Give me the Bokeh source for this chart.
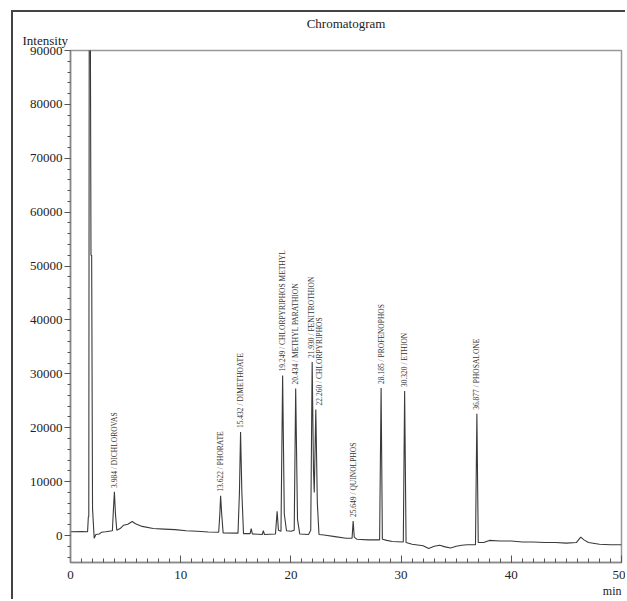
from bokeh.plotting import figure
from bokeh.models import (SingleIntervalTicker, Range1d, Title,
                          ColumnDataSource, NumeralTickFormatter)
from bokeh.core.properties import value
from bokeh.embed import file_html
from bokeh.resources import INLINE
import math

# ---- data ----
times = [0.0, 1.0, 1.55, 1.62, 1.66, 1.70, 1.80, 1.86, 1.92, 2.0, 2.15, 2.3, 2.6, 2.8, 3.2, 3.5, 3.8,
         3.9, 3.984, 4.08, 4.2, 4.5, 4.8, 5.2, 5.6, 5.9, 6.5, 7.5, 8.5, 9.5, 10.5, 11.5, 12.5,
         13.45, 13.55, 13.622, 13.72, 13.85, 15.2, 15.33, 15.432, 15.55, 15.7, 16.3, 16.4, 16.5,
         17.4, 17.5, 17.6, 18.6, 18.75, 18.87, 19.1, 19.249, 19.4, 19.6, 20.0, 20.3, 20.434, 20.6,
         20.8, 21.6, 21.8, 21.93, 22.05, 22.12, 22.26, 22.4, 22.55, 23.0, 24.0, 25.0, 25.55,
         25.649, 25.75, 26.0, 27.0, 28.05, 28.185, 28.3, 28.7, 29.2, 30.2, 30.32, 30.45, 31.0,
         32.0, 32.5, 33.0, 33.5, 34.0, 34.5, 35.0, 35.5, 36.0, 36.75, 36.877, 37.0, 37.5, 38.0,
         39.0, 40.0, 41.0, 42.0, 43.0, 44.0, 45.0, 45.9, 46.3, 46.6, 47.0, 48.0, 49.0, 50.0]
intensity = [700, 750, 700, 3500, 3500, 96000, 96000, 52000, 52000, 5000, -500, 200, 300, 600, 700,
             800, 900, 5000, 8100, 4000, 1000, 1300, 1900, 2100, 2600, 2200, 1700, 1300, 1200, 1100,
             900, 800, 650, 600, 4000, 7400, 4000, 500, 450, 8000, 19200, 8000, 350, 350, 1300, 300,
             200, 900, 200, 300, 4500, 1000, 800, 29700, 4000, 900, 800, 1000, 27300, 3000, 300, 200,
             1000, 32200, 12000, 8000, 23400, 6000, 200, 100, -200, -500, -500, 2700, -300, -700,
             -800, -800, 27400, -700, -900, -1100, -1200, 26800, -1300, -1600, -1900, -2400, -2000,
             -1800, -2100, -2300, -2000, -1800, -1700, -1700, 22600, -1300, -1300, -900, -1000,
             -1000, -1200, -1200, -1300, -1300, -1400, -1300, -300, -800, -1300, -1600, -1700, -1700]

peak_times = [3.984, 13.622, 15.432, 19.249, 20.434, 21.930, 22.260, 25.649, 28.185, 30.320, 36.877]
peak_heights = [8100, 7400, 19200, 29700, 27300, 32200, 23400, 2700, 27400, 26800, 22600]
peak_names = ["DICHLOROVAS", "PHORATE", "DIMETHOATE", "CHLORPYRIPHOS METHYL", "METHYL PARATHION",
              "FENITROTHION", "CHLORPYRIPHOS", "QUINOLPHOS", "PROFENOPHOS", "ETHION", "PHOSALONE"]
peak_labels = ["%.3f / %s" % (t, n) for t, n in zip(peak_times, peak_names)]
label_dx = [0, 0, 0, 0, 0, -1, 4, 0, 0, 0, 0]

serif = "'Liberation Serif'"

p = figure(width=614, height=589, output_backend="svg", toolbar_location=None,
           x_range=Range1d(0, 50), y_range=Range1d(-5000, 90000),
           min_border_left=57, min_border_right=6, min_border_top=38, min_border_bottom=39)
p.margin = (10, 0, 0, 11)
p.styles = {"border-left": "2px solid #444444", "border-top": "2px solid #444444"}
p.background_fill_color = "white"
p.border_fill_color = "white"
p.outline_line_color = "#999999"
p.outline_line_width = 1.5
p.grid.visible = False

# x axis
xa = p.xaxis[0]
xa.ticker = SingleIntervalTicker(interval=10, num_minor_ticks=10)
xa.major_tick_in = 7
xa.major_tick_out = 0
xa.minor_tick_in = 4
xa.minor_tick_out = 0
xa.axis_line_color = "#888888"
xa.axis_line_width = 1.5
xa.major_tick_line_color = "#555555"
xa.minor_tick_line_color = "#555555"
xa.major_label_text_font = serif
xa.major_label_text_font_size = "13px"
xa.major_label_text_color = "#222222"
xa.major_label_standoff = 8

# y axis
ya = p.yaxis[0]
ya.ticker = SingleIntervalTicker(interval=10000, num_minor_ticks=5)
ya.formatter = NumeralTickFormatter(format="0")
ya.major_tick_in = 0
ya.major_tick_out = 6
ya.minor_tick_in = 0
ya.minor_tick_out = 3
ya.axis_line_color = "#888888"
ya.axis_line_width = 1.5
ya.major_tick_line_color = "#555555"
ya.minor_tick_line_color = "#555555"
ya.major_label_text_font = serif
ya.major_label_text_font_size = "13px"
ya.major_label_text_color = "#222222"
ya.major_label_standoff = 2

# trace
p.line(times, intensity, line_color="#3a3a3a", line_width=1.1)

# peak labels
src = ColumnDataSource(dict(x=peak_times, y=peak_heights, text=peak_labels, dx=label_dx))
p.text(x="x", y="y", text="text", source=src, angle=math.pi / 2,
       x_offset="dx", y_offset=-4,
       text_font=value("Liberation Serif"), text_font_size="7.5px", text_color="#333333",
       text_align="left", text_baseline="middle")

# texts outside the frame, as titles
t_int = Title(text="Intensity", align="left", offset=-48, standoff=6,
              text_font=serif, text_font_size="13px", text_font_style="normal",
              text_color="#222222")
t_main = Title(text="Chromatogram", align="center", standoff=-6,
               text_font=serif, text_font_size="13px", text_font_style="normal",
               text_color="#222222")
t_min = Title(text="min", align="right", standoff=0,
              text_font=serif, text_font_size="12px", text_font_style="normal",
              text_color="#222222")
p.add_layout(t_int, "above")
p.add_layout(t_main, "above")
p.add_layout(t_min, "below")

open("out.html", "w").write(file_html(p, INLINE))
